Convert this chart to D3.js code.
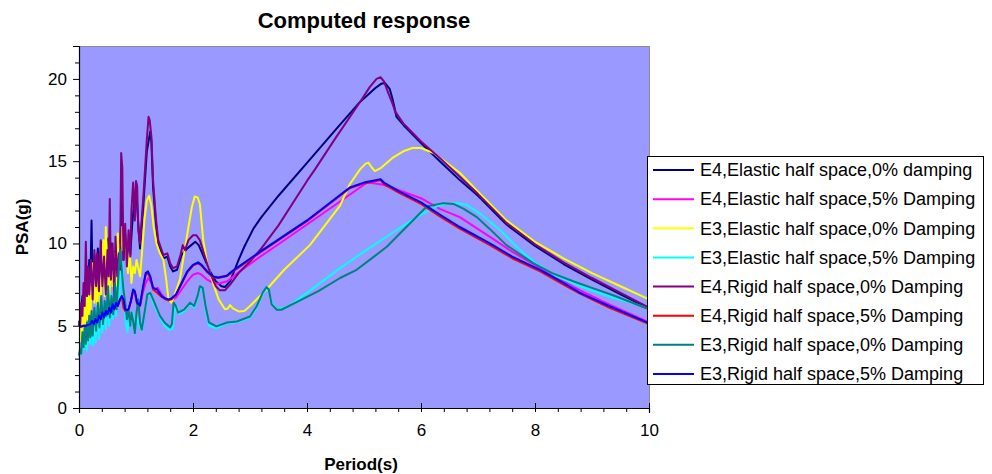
<!DOCTYPE html>
<html>
<head>
<meta charset="utf-8">
<script src="https://cdn.jsdelivr.net/npm/d3@7"></script>
<style>
  html, body { margin: 0; padding: 0; background: #ffffff; }
  svg { display: block; font-family: "Liberation Sans", Arial, Helvetica, sans-serif; }
</style>
</head>
<body>
<svg id="chart" width="992" height="474"></svg>
<script>
// ---- Data: period (s) vs pseudo-spectral acceleration PSA (g) ----
const seriesNames = [
  "E4,Elastic half space,0% damping",
  "E4,Elastic half space,5% Damping",
  "E3,Elastic half space,0% Damping",
  "E3,Elastic half space,5% Damping",
  "E4,Rigid half space,0% Damping",
  "E4,Rigid half space,5% Damping",
  "E3,Rigid half space,0% Damping",
  "E3,Rigid half space,5% Damping"
];
const seriesColors = ["#000080", "#FF00FF", "#FFFF00", "#00FFFF", "#800080", "#FF0000", "#008080", "#0000FF"];

const e4Elastic0 = [[0,5.0],[0.03,5.6],[0.06,6.8],[0.09,5.9],[0.12,8.2],[0.15,6.9],[0.18,9.0],[0.2,7.8],[0.22,11.4],[0.24,7.4],[0.27,9.3],[0.3,7.2],[0.33,9.7],[0.36,7.6],[0.39,10.1],[0.42,8.3],[0.45,9.0],[0.48,7.8],[0.51,10.3],[0.54,8.2],[0.57,10.0],[0.6,8.1],[0.63,9.5],[0.66,8.5],[0.69,10.2],[0.72,8.8],[0.75,13.0],[0.78,9.0],[0.81,10.6],[0.84,9.0],[0.87,10.0],[0.9,9.3],[0.93,11.0],[0.96,12.2],[1.0,13.4],[1.04,11.2],[1.07,9.7],[1.13,12.4],[1.19,15.6],[1.25,16.8],[1.27,16.2],[1.3,13.4],[1.35,11.2],[1.39,9.9],[1.48,9.1],[1.55,9.2],[1.6,8.6],[1.65,8.3],[1.72,8.4],[1.8,9.3],[1.9,9.7],[2.04,10.1],[2.1,9.9],[2.2,9.1],[2.3,8.3],[2.4,7.7],[2.5,7.4],[2.56,7.35],[2.65,7.7],[2.72,8.3],[2.8,9.0],[2.9,9.8],[3.06,10.9],[3.2,11.6],[3.5,12.9],[4.0,14.9],[4.5,16.9],[4.93,18.6],[5.2,19.45],[5.3,19.7],[5.37,19.75],[5.45,19.4],[5.5,18.8],[5.57,17.7],[5.69,17.2],[6.0,16.1],[6.33,15.0],[6.68,13.85],[7.0,12.9],[7.5,11.15],[8.0,9.85],[8.5,8.75],[9.0,7.8],[9.5,6.9],[10.0,6.05]];

const e4Elastic5 = [[0,4.95],[0.04,5.0],[0.08,5.0],[0.12,5.05],[0.16,5.1],[0.2,5.2],[0.23,5.4],[0.26,5.2],[0.29,5.5],[0.32,5.3],[0.35,5.7],[0.38,5.5],[0.41,5.9],[0.44,5.6],[0.47,6.0],[0.5,5.8],[0.53,6.2],[0.55,5.9],[0.57,6.7],[0.59,6.0],[0.62,6.1],[0.66,6.9],[0.68,6.2],[0.72,6.6],[0.75,6.8],[0.78,6.5],[0.81,6.0],[0.84,5.9],[0.87,6.0],[0.91,6.5],[0.95,7.1],[0.98,7.0],[1.02,6.4],[1.07,6.2],[1.12,7.0],[1.17,7.6],[1.22,7.9],[1.27,7.6],[1.32,7.2],[1.38,7.3],[1.45,6.9],[1.52,6.6],[1.6,6.5],[1.7,6.7],[1.8,7.2],[1.9,7.7],[2.0,8.1],[2.09,8.2],[2.15,8.1],[2.25,7.8],[2.35,7.6],[2.44,7.55],[2.6,7.7],[2.8,8.25],[3.18,9.2],[3.5,9.95],[4.0,11.15],[4.58,12.55],[5.05,13.7],[5.2,13.65],[5.34,13.57],[5.6,13.25],[6.0,12.75],[6.33,12.1],[6.68,11.6],[7.21,10.4],[7.6,9.5],[8.09,8.5],[8.5,7.7],[8.79,7.15],[9.3,6.3],[10.0,5.2]];

const e3Elastic0 = [[0,4.1],[0.03,4.05],[0.05,5.6],[0.07,4.6],[0.09,6.4],[0.11,5.0],[0.13,7.8],[0.15,5.4],[0.18,7.0],[0.2,5.4],[0.23,8.8],[0.25,7.8],[0.27,6.4],[0.3,7.6],[0.32,5.8],[0.35,8.6],[0.38,6.2],[0.41,9.6],[0.43,10.2],[0.45,6.8],[0.47,11.0],[0.5,8.6],[0.53,6.6],[0.56,8.8],[0.59,7.4],[0.62,9.4],[0.65,7.4],[0.68,10.6],[0.71,8.8],[0.75,11.0],[0.77,9.6],[0.8,10.8],[0.83,9.4],[0.86,8.2],[0.89,9.6],[0.92,7.6],[0.95,8.6],[0.98,8.2],[1.01,9.0],[1.04,8.5],[1.07,8.0],[1.1,9.2],[1.15,11.5],[1.19,12.6],[1.23,12.9],[1.27,12.3],[1.31,11.0],[1.36,10.0],[1.42,9.4],[1.48,9.0],[1.53,7.8],[1.57,6.6],[1.62,6.4],[1.67,6.8],[1.72,7.3],[1.77,7.8],[1.85,9.5],[1.92,11.0],[1.98,12.2],[2.03,12.85],[2.08,12.8],[2.12,12.4],[2.18,10.2],[2.25,8.8],[2.35,7.6],[2.45,6.6],[2.56,6.0],[2.61,6.05],[2.65,6.25],[2.7,6.05],[2.8,5.87],[2.9,5.9],[3.0,6.2],[3.29,7.2],[3.6,8.4],[4.05,9.9],[4.58,12.3],[4.75,13.6],[4.93,14.5],[5.03,14.85],[5.08,14.9],[5.14,14.6],[5.19,14.4],[5.3,14.6],[5.5,15.2],[5.69,15.6],[5.85,15.8],[6.0,15.8],[6.22,15.5],[6.45,14.9],[6.68,14.3],[7.0,13.15],[7.5,11.4],[8.0,10.1],[8.5,9.1],[9.0,8.2],[9.5,7.4],[10.0,6.6]];

const e3Elastic5 = [[0,3.1],[0.03,3.6],[0.05,3.3],[0.07,4.4],[0.09,3.6],[0.12,5.0],[0.14,3.5],[0.17,5.2],[0.19,3.9],[0.22,5.6],[0.24,3.8],[0.27,5.8],[0.29,4.0],[0.32,6.2],[0.35,4.2],[0.38,6.0],[0.41,4.6],[0.44,6.4],[0.47,4.8],[0.5,6.6],[0.53,5.0],[0.56,6.9],[0.59,5.4],[0.62,7.0],[0.65,5.6],[0.68,7.4],[0.71,6.4],[0.73,8.6],[0.76,8.8],[0.79,6.6],[0.82,5.2],[0.85,4.6],[0.88,5.6],[0.91,5.0],[0.94,5.8],[0.98,4.5],[1.02,5.6],[1.06,5.0],[1.1,4.7],[1.15,5.7],[1.2,6.8],[1.25,6.9],[1.3,6.4],[1.42,5.5],[1.5,5.0],[1.58,4.75],[1.64,4.8],[1.68,6.0],[1.72,6.2],[1.76,5.7],[1.85,5.9],[1.95,6.3],[2.02,6.1],[2.08,6.7],[2.12,7.3],[2.17,7.2],[2.22,6.0],[2.28,5.0],[2.41,4.85],[2.6,5.15],[2.77,5.2],[3.0,5.5],[3.12,6.1],[3.22,6.9],[3.29,7.3],[3.33,7.1],[3.38,6.4],[3.47,6.0],[3.6,6.1],[3.7,6.25],[4.0,7.0],[4.58,8.5],[5.0,9.5],[5.5,10.65],[5.75,11.2],[6.0,11.75],[6.33,12.35],[6.63,12.45],[6.8,12.35],[7.04,11.8],[7.39,10.8],[7.68,9.8],[7.97,8.9],[8.38,8.0],[8.79,7.4],[9.37,6.7],[10.0,6.07]];

const e4Rigid0 = [[0,5.3],[0.02,5.0],[0.04,6.4],[0.06,5.6],[0.08,7.6],[0.1,6.2],[0.12,10.1],[0.14,6.8],[0.16,8.6],[0.18,6.9],[0.21,9.0],[0.24,6.6],[0.27,9.6],[0.3,7.4],[0.32,9.4],[0.35,7.1],[0.38,10.2],[0.41,7.4],[0.44,9.2],[0.47,6.9],[0.5,9.6],[0.52,8.0],[0.54,12.7],[0.56,7.8],[0.59,10.0],[0.62,6.6],[0.64,10.4],[0.67,8.0],[0.7,9.4],[0.72,8.4],[0.74,15.5],[0.76,14.6],[0.78,9.0],[0.81,11.2],[0.84,8.6],[0.87,10.8],[0.9,9.2],[0.92,12.0],[0.95,13.7],[0.98,11.4],[1.0,13.8],[1.02,13.5],[1.04,10.8],[1.07,10.0],[1.13,12.9],[1.19,16.3],[1.22,17.7],[1.24,17.5],[1.27,16.5],[1.3,13.8],[1.35,11.5],[1.39,10.2],[1.48,9.3],[1.55,9.4],[1.6,8.8],[1.65,8.5],[1.72,8.6],[1.78,9.3],[1.82,9.9],[1.86,9.6],[1.92,10.2],[2.0,10.5],[2.06,10.5],[2.12,10.2],[2.2,9.3],[2.3,8.2],[2.4,7.4],[2.47,7.15],[2.56,7.15],[2.65,7.5],[2.8,8.2],[3.0,8.9],[3.2,9.7],[3.5,11.1],[4.0,13.8],[4.14,14.5],[4.5,16.4],[4.93,18.6],[5.1,19.5],[5.22,20.0],[5.29,20.1],[5.35,19.85],[5.43,19.1],[5.5,18.5],[5.55,18.0],[5.69,17.3],[6.0,16.2],[6.33,15.2],[6.68,14.05],[7.0,13.0],[7.5,11.25],[8.0,9.95],[8.5,8.85],[9.0,7.9],[9.5,7.0],[10.0,6.1]];

const e4Rigid5 = [[0,4.9],[0.04,4.95],[0.08,5.0],[0.12,5.0],[0.16,5.05],[0.2,5.1],[0.23,5.3],[0.26,5.1],[0.29,5.4],[0.32,5.2],[0.35,5.6],[0.38,5.4],[0.41,5.8],[0.44,5.5],[0.47,5.9],[0.5,5.7],[0.53,6.1],[0.56,5.8],[0.59,6.3],[0.62,6.0],[0.65,6.4],[0.68,6.2],[0.72,6.6],[0.75,6.8],[0.78,6.1],[0.81,5.9],[0.84,5.9],[0.87,6.0],[0.91,6.5],[0.95,7.1],[0.98,7.0],[1.02,6.3],[1.07,6.2],[1.12,7.2],[1.17,8.1],[1.21,8.2],[1.25,7.9],[1.3,7.2],[1.37,7.0],[1.45,6.75],[1.52,6.6],[1.57,6.55],[1.62,6.6],[1.7,6.85],[1.8,7.55],[1.9,8.25],[2.0,8.65],[2.09,8.8],[2.15,8.65],[2.25,8.25],[2.35,7.95],[2.44,7.9],[2.59,8.0],[2.7,8.3],[3.18,9.45],[4.0,11.35],[4.75,13.35],[5.0,13.65],[5.29,13.85],[5.35,13.6],[5.6,13.1],[6.0,12.4],[6.33,11.65],[6.68,10.9],[7.21,9.9],[7.6,9.1],[8.09,8.3],[8.5,7.5],[8.79,6.95],[9.3,6.1],[10.0,5.1]];

const e3Rigid0 = [[0,3.2],[0.02,3.6],[0.04,3.3],[0.06,4.6],[0.08,3.7],[0.1,5.0],[0.12,3.9],[0.14,5.2],[0.16,4.1],[0.18,5.6],[0.2,4.3],[0.22,5.9],[0.24,4.4],[0.27,6.1],[0.3,4.7],[0.33,6.4],[0.36,4.9],[0.39,6.8],[0.42,5.1],[0.45,6.5],[0.48,5.6],[0.51,7.4],[0.54,5.5],[0.57,6.8],[0.6,5.7],[0.63,7.6],[0.66,6.0],[0.69,8.0],[0.72,9.6],[0.75,8.4],[0.78,7.2],[0.81,6.4],[0.84,5.4],[0.87,5.9],[0.9,5.0],[0.92,5.8],[0.95,5.3],[0.98,4.55],[1.01,5.8],[1.04,6.6],[1.07,5.2],[1.1,4.75],[1.15,5.8],[1.2,6.9],[1.25,7.0],[1.3,6.6],[1.42,5.6],[1.5,5.2],[1.6,4.9],[1.63,5.1],[1.66,6.4],[1.7,6.2],[1.74,5.8],[1.85,6.0],[1.95,6.4],[2.02,6.2],[2.08,6.8],[2.12,7.4],[2.17,7.3],[2.22,6.2],[2.28,5.2],[2.41,4.96],[2.6,5.2],[2.77,5.26],[3.0,5.56],[3.12,6.2],[3.22,7.0],[3.29,7.35],[3.33,7.2],[3.38,6.3],[3.47,5.97],[3.55,5.97],[3.8,6.4],[4.2,7.1],[4.58,7.9],[4.87,8.4],[5.1,9.0],[5.4,9.8],[5.8,11.2],[6.1,12.25],[6.39,12.45],[6.57,12.4],[6.75,12.1],[6.98,11.6],[7.2,10.9],[7.5,9.9],[7.97,8.8],[8.3,8.2],[8.67,7.7],[9.0,7.3],[9.37,6.85],[10.0,6.0]];

const e3Rigid5 = [[0,4.95],[0.04,4.95],[0.08,5.0],[0.12,5.0],[0.16,5.05],[0.2,5.1],[0.23,5.3],[0.26,5.1],[0.29,5.4],[0.32,5.2],[0.35,5.6],[0.38,5.4],[0.41,5.8],[0.44,5.5],[0.47,5.9],[0.5,5.7],[0.53,6.1],[0.56,5.8],[0.59,6.3],[0.62,6.0],[0.65,6.4],[0.68,6.2],[0.72,6.6],[0.75,6.8],[0.78,6.6],[0.81,6.0],[0.84,5.95],[0.87,6.0],[0.91,6.5],[0.95,7.2],[0.98,7.1],[1.02,6.4],[1.07,6.25],[1.12,7.3],[1.17,8.2],[1.21,8.3],[1.25,8.0],[1.3,7.3],[1.37,7.2],[1.45,6.8],[1.52,6.65],[1.57,6.6],[1.62,6.65],[1.7,6.9],[1.8,7.6],[1.9,8.3],[2.0,8.7],[2.09,8.85],[2.15,8.7],[2.25,8.3],[2.35,8.0],[2.44,7.93],[2.59,8.04],[2.7,8.35],[3.18,9.5],[4.0,11.4],[4.75,13.4],[5.0,13.7],[5.29,13.9],[5.35,13.7],[5.6,13.2],[6.0,12.5],[6.33,11.75],[6.68,11.0],[7.21,10.0],[7.6,9.2],[8.09,8.4],[8.5,7.6],[8.79,7.0],[9.3,6.2],[10.0,5.16]];

const xTicks = [0, 2, 4, 6, 8, 10];
const xMinorTicks = [0.4, 0.8, 1.2, 1.6, 2.4, 2.8, 3.2, 3.6, 4.4, 4.8, 5.2, 5.6, 6.4, 6.8, 7.2, 7.6, 8.4, 8.8, 9.2, 9.6];
const yTicks = [0, 5, 10, 15, 20];
const yMinorTicks = [1,2,3,4,6,7,8,9,11,12,13,14,16,17,18,19,21,22];

const chartTitle = "Computed response";
const xTitle = "Period(s)";
const yTitle = "PSA(g)";

// ---- Layout ----
const svg = d3.select("#chart");
const plot = { left: 79, right: 649, top: 46, bottom: 408 };

const x = d3.scaleLinear().domain([0, 10]).range([plot.left, plot.right]);
const y = d3.scaleLinear().domain([0, 22]).range([plot.bottom, plot.top]);

// plot area
svg.append("rect")
  .attr("x", plot.left).attr("y", plot.top)
  .attr("width", plot.right - plot.left).attr("height", plot.bottom - plot.top)
  .attr("fill", "#9999FF");
svg.append("line")
  .attr("x1", plot.left).attr("x2", plot.right)
  .attr("y1", plot.top + 0.5).attr("y2", plot.top + 0.5)
  .attr("stroke", "#8c8c8c").attr("stroke-width", 1);
svg.append("line")
  .attr("x1", plot.right + 0.5).attr("x2", plot.right + 0.5)
  .attr("y1", plot.top).attr("y2", plot.bottom)
  .attr("stroke", "#8c8c8c").attr("stroke-width", 1);

// series
const allSeries = [e4Elastic0, e4Elastic5, e3Elastic0, e3Elastic5, e4Rigid0, e4Rigid5, e3Rigid0, e3Rigid5];
const line = d3.line().x(d => x(d[0])).y(d => y(d[1])).curve(d3.curveLinear);

svg.append("g").selectAll("path")
  .data(allSeries)
  .join("path")
  .attr("d", d => line(d))
  .attr("fill", "none")
  .attr("stroke", (d, i) => seriesColors[i])
  .attr("stroke-width", 2)
  .attr("stroke-linejoin", "round");

// axes
const axisFont = "17px";
const yAxis = svg.append("g")
  .attr("transform", `translate(${plot.left},0)`)
  .call(d3.axisLeft(y).tickValues(yTicks).tickSize(6).tickPadding(6).tickFormat(d3.format("d")));
svg.append("g")
  .attr("transform", `translate(${plot.left},0)`)
  .call(d3.axisLeft(y).tickValues(yMinorTicks).tickSize(4).tickFormat(""))
  .call(g => g.select(".domain").remove());

const xAxis = svg.append("g")
  .attr("transform", `translate(0,${plot.bottom})`)
  .call(d3.axisBottom(x).tickValues(xTicks).tickSize(5).tickPadding(11).tickFormat(d3.format("d")));
xAxis.selectAll(".tick line").attr("y1", -5).attr("y2", 4);
svg.append("g")
  .attr("transform", `translate(0,${plot.bottom})`)
  .call(d3.axisBottom(x).tickValues(xMinorTicks).tickSize(4).tickFormat(""))
  .call(g => g.select(".domain").remove());

svg.selectAll(".domain").attr("stroke", "#000").attr("stroke-width", 1.2);
svg.selectAll(".tick line").attr("stroke", "#000");
[yAxis, xAxis].forEach(g => g.selectAll(".tick text")
  .attr("font-family", "'Liberation Sans', Arial, sans-serif")
  .attr("font-size", axisFont)
  .attr("fill", "#000"));

// titles
svg.append("text")
  .attr("x", 364).attr("y", 28)
  .attr("text-anchor", "middle")
  .attr("font-size", "22px").attr("font-weight", "bold")
  .text(chartTitle);

svg.append("text")
  .attr("x", 361).attr("y", 470)
  .attr("text-anchor", "middle")
  .attr("font-size", "17px").attr("font-weight", "bold")
  .text(xTitle);

svg.append("text")
  .attr("transform", `translate(28,${(plot.top + plot.bottom) / 2}) rotate(-90)`)
  .attr("text-anchor", "middle")
  .attr("font-size", "17px").attr("font-weight", "bold")
  .text(yTitle);

// legend
const legend = svg.append("g").attr("transform", "translate(647,156)");
legend.append("rect")
  .attr("x", 0.5).attr("y", 0.5)
  .attr("width", 336).attr("height", 228)
  .attr("fill", "#ffffff").attr("stroke", "#000").attr("stroke-width", 1);

const rowY = d3.scaleLinear().domain([0, 7]).range([14, 218]);
const items = legend.selectAll("g.item")
  .data(seriesNames)
  .join("g")
  .attr("class", "item")
  .attr("transform", (d, i) => `translate(0,${rowY(i)})`);
items.append("line")
  .attr("x1", 6).attr("x2", 47)
  .attr("stroke", (d, i) => seriesColors[i])
  .attr("stroke-width", 2);
items.append("text")
  .attr("x", 53).attr("dy", "0.35em")
  .attr("font-size", "18px")
  .attr("fill", "#000")
  .text(d => d);
</script>
</body>
</html>
